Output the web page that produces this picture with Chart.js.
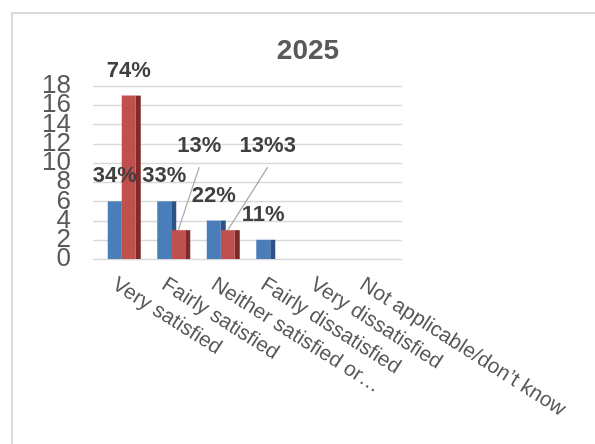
<!DOCTYPE html>
<html>
<head>
<meta charset="utf-8">
<script src="https://cdn.jsdelivr.net/npm/chart.js@4"></script>
<style>
  html, body { margin: 0; padding: 0; background: #ffffff; }
  #wrap { position: relative; width: 595px; height: 444px; }
</style>
</head>
<body>
<div id="wrap"><canvas id="chart" width="595" height="444"></canvas></div>
<script>
// Survey satisfaction counts, 2025
const chartTitle = '2025';
const categories = [
  'Very satisfied',
  'Fairly satisfied',
  'Neither satisfied or…',
  'Fairly dissatisfied',
  'Very dissatisfied',
  'Not applicable/don\u2019t know'
];
const seriesA = [6, 6, 4, 2, 0, 0];
const seriesB = [17, 3, 3, 0, 0, 0];
const labelsA = ['34%', '33%', '22%', '11%', '', ''];
const labelsB = ['74%', '13%', '13%3', '', '', ''];
const yTicks = [0, 2, 4, 6, 8, 10, 12, 14, 16, 18];

// styling
const FONT = '"Liberation Sans", Arial, sans-serif';
const NARROW = '"Liberation Sans Narrow", "Arial Narrow", "Liberation Sans", sans-serif';
const colA = '#4a7ebb', sideA = '#2d5284';
const colB = '#c0504d', sideB = '#7d2c2a';
const depth = 5;
const gridColor = '#d9d9d9';
const textGrey = '#595959';
const labelDark = '#404040';
// labels of series B pulled away from their bars, with a leader line
const leaderOffsets = { 1: { dx: 21, dy: -84 }, 2: { dx: 40, dy: -84 } };

const decor = {
  id: 'decor',
  beforeDraw(chart) {
    const ctx = chart.ctx;
    ctx.save();
    ctx.strokeStyle = gridColor;
    ctx.lineWidth = 2;
    ctx.strokeRect(12, 13, 620, 470);
    // title
    ctx.fillStyle = textGrey;
    ctx.font = 'bold 28px ' + FONT;
    ctx.textAlign = 'center';
    ctx.textBaseline = 'middle';
    ctx.fillText(chartTitle, 308, 51);
    // horizontal gridlines
    const y = chart.scales.y;
    const a = chart.chartArea;
    ctx.strokeStyle = gridColor;
    ctx.lineWidth = 1.6;
    yTicks.forEach(v => {
      const py = Math.round(y.getPixelForValue(v)) + 0.5;
      ctx.beginPath();
      ctx.moveTo(a.left - 4, py);
      ctx.lineTo(a.right + 8, py);
      ctx.stroke();
    });
    ctx.restore();
  },
  beforeDatasetsDraw(chart) {
    // depth faces on the right of each bar
    const ctx = chart.ctx;
    ctx.save();
    [sideA, sideB].forEach((c, di) => {
      chart.getDatasetMeta(di).data.forEach(bar => {
        const p = bar.getProps(['x', 'y', 'base', 'width'], true);
        if (Math.abs(p.base - p.y) < 0.5) return;
        ctx.fillStyle = c;
        ctx.fillRect(p.x + p.width / 2, p.y, depth, p.base - p.y);
      });
    });
    ctx.restore();
  },
  afterDatasetsDraw(chart) {
    const ctx = chart.ctx;
    ctx.save();
    ctx.font = 'bold 22px ' + FONT;
    ctx.fillStyle = labelDark;
    ctx.textAlign = 'center';
    ctx.textBaseline = 'middle';
    [labelsA, labelsB].forEach((labs, di) => {
      chart.getDatasetMeta(di).data.forEach((bar, i) => {
        const t = labs[i];
        if (!t) return;
        const p = bar.getProps(['x', 'y'], true);
        const lead = di === 1 ? leaderOffsets[i] : null;
        if (lead) {
          const lx = p.x + lead.dx, ly = p.y + lead.dy;
          ctx.strokeStyle = '#a6a6a6';
          ctx.lineWidth = 1.2;
          ctx.beginPath();
          ctx.moveTo(lx, ly + 21);
          ctx.lineTo(p.x, p.y);
          ctx.stroke();
          ctx.fillText(t, lx, ly);
        } else {
          ctx.fillText(t, p.x, p.y - 25);
        }
      });
    });
    ctx.restore();
  },
  afterDraw(chart) {
    // slanted category labels
    const ctx = chart.ctx;
    const x = chart.scales.x;
    ctx.save();
    ctx.font = '21px ' + FONT;
    ctx.fillStyle = textGrey;
    ctx.textAlign = 'left';
    ctx.textBaseline = 'top';
    categories.forEach((c, i) => {
      const px = x.getPixelForValue(i);
      ctx.save();
      ctx.translate(px - 2, 274);
      ctx.rotate(32.5 * Math.PI / 180);
      ctx.fillText(c, 0, 0);
      ctx.restore();
    });
    ctx.restore();
  }
};

new Chart(document.getElementById('chart'), {
  type: 'bar',
  data: {
    labels: categories,
    datasets: [
      { data: seriesA, backgroundColor: colA, borderWidth: 0 },
      { data: seriesB, backgroundColor: colB, borderWidth: 0 }
    ]
  },
  options: {
    responsive: false,
    animation: false,
    devicePixelRatio: 1,
    categoryPercentage: 0.566,
    barPercentage: 1,
    layout: { padding: { top: 86, left: 12, right: 201, bottom: 0 } },
    plugins: { legend: { display: false }, tooltip: { enabled: false }, title: { display: false } },
    scales: {
      x: {
        grid: { display: false },
        border: { display: false },
        ticks: { display: false },
        afterFit(s) { s.height = 185; }
      },
      y: {
        min: 0,
        max: 18,
        grid: { display: false, drawTicks: false },
        border: { display: false },
        afterBuildTicks(s) { s.ticks = yTicks.map(v => ({ value: v })); },
        afterFit(s) { s.width = 85; },
        ticks: {
          autoSkip: false,
          padding: 26,
          color: textGrey,
          font: { family: NARROW, size: 26, lineHeight: 0.7 }
        }
      }
    }
  },
  plugins: [decor]
});
</script>
</body>
</html>
